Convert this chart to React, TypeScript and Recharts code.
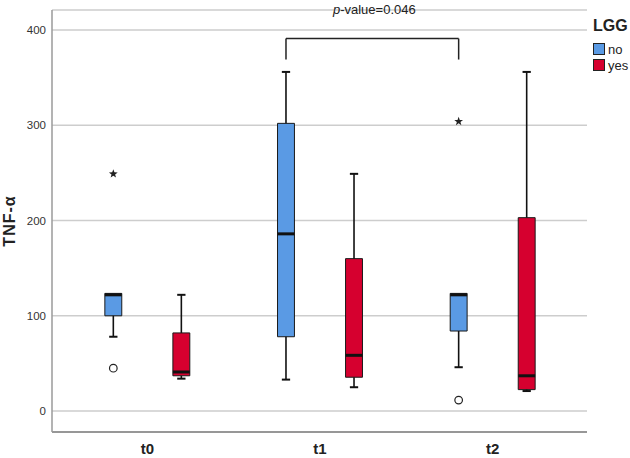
import React from "react";
import {
  ComposedChart,
  XAxis,
  YAxis,
  CartesianGrid,
  ReferenceArea,
  ReferenceLine,
  Scatter,
} from "recharts";

// time points and groups
const categories = ["t0", "t1", "t2"];
const groups = ["no", "yes"];
const groupColors = ["#5a9ae4", "#d6002f"];

// box plot stats for LGG = no
const noLow = [78, 33, 46];
const noQ1 = [100, 78, 84];
const noMedian = [122, 186, 122];
const noQ3 = [123.5, 302, 123.5];
const noHigh = [123.5, 356, 123.5];

// box plot stats for LGG = yes
const yesLow = [34, 25, 21];
const yesQ1 = [37, 35.5, 22.5];
const yesMedian = [41, 58.5, 37];
const yesQ3 = [82, 160, 203];
const yesHigh = [122, 249, 356];

// outliers (circle) and extremes (star)
const outlierCats = ["t0", "t2", "t0", "t2"];
const outlierGroups = ["no", "no", "no", "no"];
const outlierValues = [45, 11.5, 249, 304];
const outlierKinds = ["circle", "circle", "star", "star"];

const yTicks = [0, 100, 200, 300, 400];

// significance bracket between t1/no and t2/no
const bracketFrom = { cat: "t1", group: "no" };
const bracketTo = { cat: "t2", group: "no" };
const bracketTop = 391;
const bracketBottom = 369;
const pValue = "0.046";

const GROUP_OFFSET = 0.197;
const BOX_HALF = 0.049;
const CAP_HALF = 0.024;

const xPos = (cat: string, group: string) =>
  categories.indexOf(cat) + 0.5 + (groups.indexOf(group) === 0 ? -GROUP_OFFSET : GROUP_OFFSET);

const stats = [
  { low: noLow, q1: noQ1, med: noMedian, q3: noQ3, high: noHigh },
  { low: yesLow, q1: yesQ1, med: yesMedian, q3: yesQ3, high: yesHigh },
];

const boxes = categories.flatMap((cat, i) =>
  groups.map((g, j) => ({
    key: cat + g,
    x: xPos(cat, g),
    color: groupColors[j],
    low: stats[j].low[i],
    q1: stats[j].q1[i],
    med: stats[j].med[i],
    q3: stats[j].q3[i],
    high: stats[j].high[i],
  }))
);

const outliers = outlierValues.map((v, i) => ({
  x: xPos(outlierCats[i], outlierGroups[i]),
  y: v,
  kind: outlierKinds[i],
}));

function OutlierShape(props: any) {
  const { cx, cy, payload } = props;
  if (payload.kind === "circle") {
    return <circle cx={cx} cy={cy} r={3.8} fill="#fff" stroke="#222" strokeWidth={1.2} />;
  }
  const pts: string[] = [];
  for (let k = 0; k < 10; k++) {
    const r = k % 2 === 0 ? 4.6 : 1.9;
    const a = -Math.PI / 2 + (k * Math.PI) / 5;
    pts.push(`${cx + r * Math.cos(a)},${cy + r * Math.sin(a)}`);
  }
  return <polygon points={pts.join(" ")} fill="#222" />;
}

function PLabel(props: any) {
  const vb = props.viewBox || {};
  const cx = vb.x + (vb.width || 0) / 2 + 2;
  return (
    <text x={cx} y={vb.y - 25} textAnchor="middle" fontSize={13} fill="#222">
      <tspan fontStyle="italic">p</tspan>-value={pValue}
    </text>
  );
}

export default function App() {
  const bx1 = xPos(bracketFrom.cat, bracketFrom.group);
  const bx2 = xPos(bracketTo.cat, bracketTo.group);

  return (
    <div
      style={{
        position: "absolute",
        left: 0,
        top: 0,
        width: 630,
        height: 458,
        background: "#fff",
        fontFamily: '"Liberation Sans", Arial, sans-serif',
      }}
    >
      <ComposedChart width={630} height={458} margin={{ top: 10, right: 43, bottom: 0, left: 5 }}>
        <CartesianGrid vertical={false} stroke="#cdcdcd" strokeWidth={1.5} />
        <XAxis
          type="number"
          dataKey="x"
          domain={[0, 3]}
          ticks={[0.5, 1.5, 2.5]}
          tickFormatter={(v: number) => categories[Math.floor(v)]}
          padding={{ left: 9, right: 8 }}
          height={26}
          tickLine={false}
          tickMargin={5}
          axisLine={{ stroke: "#808080", strokeWidth: 1.5 }}
          tick={{ fill: "#222", fontSize: 15, fontWeight: "bold" }}
          allowDataOverflow
        />
        <YAxis
          type="number"
          dataKey="y"
          domain={[-22, 421]}
          ticks={yTicks}
          width={47}
          tickLine={false}
          tickMargin={0}
          axisLine={{ stroke: "#9a9a9a", strokeWidth: 1.5 }}
          tick={{ fill: "#333", fontSize: 11.5 }}
          allowDataOverflow
          label={{
            value: "TNF-α",
            angle: -90,
            position: "insideLeft",
            offset: 4,
            style: {
              textAnchor: "middle",
              fontWeight: "bold",
              fontSize: 16,
              letterSpacing: 1,
              fill: "#222",
            },
          }}
        />

        {boxes.map((b) => (
          <ReferenceLine
            key={b.key + "wl"}
            segment={[{ x: b.x, y: b.low }, { x: b.x, y: b.q1 }]}
            stroke="#111"
            strokeWidth={1.6}
          />
        ))}
        {boxes.map((b) => (
          <ReferenceLine
            key={b.key + "wh"}
            segment={[{ x: b.x, y: b.q3 }, { x: b.x, y: b.high }]}
            stroke="#111"
            strokeWidth={1.6}
          />
        ))}
        {boxes.map((b) => (
          <ReferenceLine
            key={b.key + "cl"}
            segment={[{ x: b.x - CAP_HALF, y: b.low }, { x: b.x + CAP_HALF, y: b.low }]}
            stroke="#111"
            strokeWidth={2}
          />
        ))}
        {boxes
          .filter((b) => b.high > b.q3)
          .map((b) => (
            <ReferenceLine
              key={b.key + "ch"}
              segment={[{ x: b.x - CAP_HALF, y: b.high }, { x: b.x + CAP_HALF, y: b.high }]}
              stroke="#111"
              strokeWidth={2}
            />
          ))}
        {boxes.map((b) => (
          <ReferenceArea
            key={b.key + "box"}
            x1={b.x - BOX_HALF}
            x2={b.x + BOX_HALF}
            y1={b.q1}
            y2={b.q3}
            fill={b.color}
            fillOpacity={1}
            stroke="#1a1a1a"
            strokeWidth={1}
          />
        ))}
        {boxes.map((b) => (
          <ReferenceLine
            key={b.key + "med"}
            segment={[{ x: b.x - BOX_HALF, y: b.med }, { x: b.x + BOX_HALF, y: b.med }]}
            stroke="#111"
            strokeWidth={3}
          />
        ))}

        <ReferenceLine
          segment={[{ x: bx1, y: bracketTop }, { x: bx2, y: bracketTop }]}
          stroke="#222"
          strokeWidth={1.5}
          label={PLabel}
        />
        <ReferenceLine
          segment={[{ x: bx1, y: bracketBottom }, { x: bx1, y: bracketTop }]}
          stroke="#222"
          strokeWidth={1.5}
        />
        <ReferenceLine
          segment={[{ x: bx2, y: bracketBottom }, { x: bx2, y: bracketTop }]}
          stroke="#222"
          strokeWidth={1.5}
        />

        <Scatter data={outliers} dataKey="y" shape={OutlierShape} isAnimationActive={false} />
      </ComposedChart>

      <div style={{ position: "absolute", left: 593, top: 17, color: "#222" }}>
        <div style={{ fontWeight: "bold", fontSize: 16, lineHeight: "18px", marginBottom: 6 }}>LGG</div>
        {groups.map((g, j) => (
          <div key={g} style={{ display: "flex", alignItems: "center", height: 16, fontSize: 13 }}>
            <span
              style={{
                display: "inline-block",
                width: 10,
                height: 10,
                background: groupColors[j],
                border: "1px solid #222",
                marginRight: 3,
              }}
            />
            {g}
          </div>
        ))}
      </div>
    </div>
  );
}
